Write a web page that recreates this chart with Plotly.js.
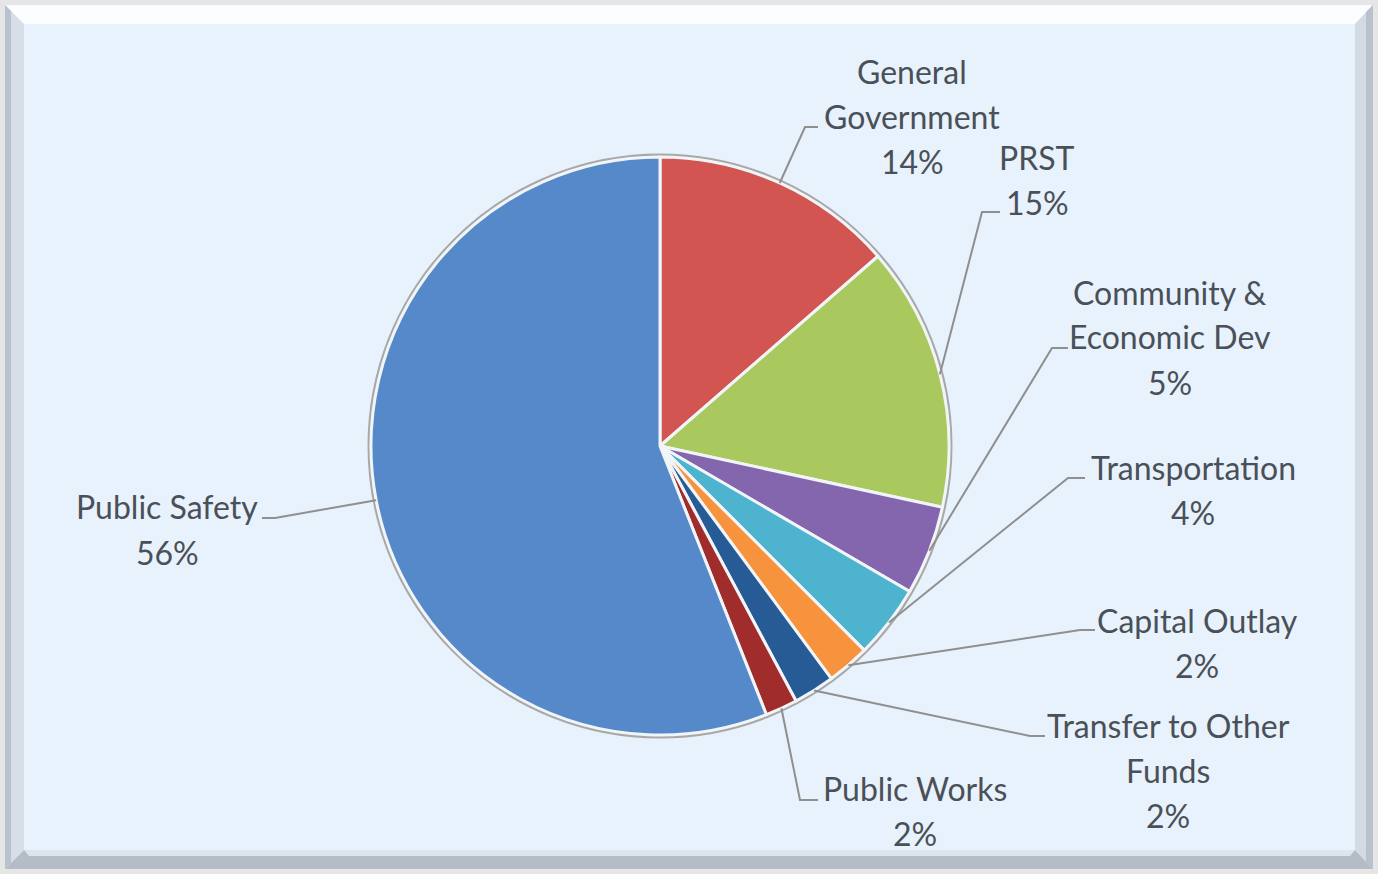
<!DOCTYPE html>
<html>
<head>
<meta charset="utf-8">
<script src="https://cdn.plot.ly/plotly-3.0.1.min.js"></script>
<style>html,body{margin:0;padding:0;background:#fff;}#chart{width:1378px;height:874px;}</style>
</head>
<body>
<div id="chart"></div>
<script>
// ---- data ----
const categories = ["General Government", "PRST", "Community & Economic Dev", "Transportation",
  "Capital Outlay", "Transfer to Other Funds", "Public Works", "Public Safety"];
const labelLines = [["General", "Government"], ["PRST"], ["Community &", "Economic Dev"], ["Transportation"],
  ["Capital Outlay"], ["Transfer to Other", "Funds"], ["Public Works"], ["Public Safety"]];
const values = [13.6, 14.8, 5.0, 4.1, 2.4, 2.3, 1.8, 56.0];
const colors = ["#D25551", "#A9C85D", "#8466AE", "#4DB3CF", "#F7933C", "#275B95", "#A12C2C", "#5589CA"];

// ---- layout of the label blocks (pixels: text centre x, first line centre y, elbow, end of leader) ----
const labelPos = [
  {cx: 912, y0: 71, ex: 805, ey: 127, hx: 818},
  {cx: 1037, y0: 157, ex: 982, ey: 212, hx: 1000},
  {cx: 1170, y0: 292, ex: 1052, ey: 348, hx: 1068},
  {cx: 1193, y0: 467, ex: 1068, ey: 478, hx: 1085},
  {cx: 1197, y0: 620, ex: 1080, ey: 630, hx: 1095},
  {cx: 1168, y0: 725, ex: 1030, ey: 736, hx: 1045},
  {cx: 915, y0: 788, ex: 800, ey: 800, hx: 818},
  {cx: 167, y0: 507, ex: 275, ey: 518, hx: 262}
];

const W = 1378, H = 874;
const CX = 660, CY = 446, R = 289;
const LINE = 45;
const px = x => x / W;
const py = y => 1 - y / H;

const total = values.reduce((a, b) => a + b, 0);
const shapes = [];
const annotations = [];

// frame / bevel
shapes.push({type: 'rect', xref: 'paper', yref: 'paper', x0: 0, x1: 1, y0: 0, y1: 1, fillcolor: '#E6E6E6', line: {width: 0}, layer: 'below'});
shapes.push({type: 'rect', xref: 'paper', yref: 'paper', x0: px(5), x1: px(1373), y0: py(869), y1: py(5), fillcolor: '#E8F2FC', line: {width: 0}, layer: 'below'});
function poly(pts, fill) {
  let d = pts.map((p, i) => (i ? 'L' : 'M') + px(p[0]) + ',' + py(p[1])).join(' ') + ' Z';
  shapes.push({type: 'path', xref: 'paper', yref: 'paper', path: d, fillcolor: fill, line: {width: 0}, layer: 'below'});
}
poly([[5, 5], [1373, 5], [1355, 24], [24, 24]], '#FBFDFF');
poly([[5, 5], [24, 24], [24, 850], [5, 869]], '#D6DEE7');
poly([[5, 5], [11, 11], [11, 863], [5, 869]], '#B9C2CD');
poly([[1373, 5], [1355, 24], [1355, 850], [1373, 869]], '#D2DAE4');
poly([[1373, 5], [1366, 12], [1366, 862], [1373, 869]], '#B8C1CC');
poly([[5, 869], [24, 850], [1355, 850], [1373, 869]], '#B3BCC7');
poly([[24, 850], [1355, 850], [1350, 856], [29, 856]], '#DCE4EC');

// outer rim of the pie
shapes.push({type: 'circle', xref: 'paper', yref: 'paper', x0: px(CX - R - 2), x1: px(CX + R + 2), y0: py(CY + R + 2), y1: py(CY - R - 2), line: {color: '#A8A8A8', width: 3}, fillcolor: 'rgba(0,0,0,0)', layer: 'below'});

// leader lines and labels, anchored at each slice's mid-angle
let cum = 0;
values.forEach((v, i) => {
  const mid = (cum + v / 2) / total * 2 * Math.PI;
  cum += v;
  const ax = CX + R * Math.sin(mid), ay = CY - R * Math.cos(mid);
  const L = labelPos[i];
  shapes.push({type: 'path', xref: 'paper', yref: 'paper',
    path: 'M' + px(ax) + ',' + py(ay) + ' L' + px(L.ex) + ',' + py(L.ey) + ' L' + px(L.hx) + ',' + py(L.ey),
    line: {color: '#8F8F8F', width: 2}, layer: 'above'});
  const lines = labelLines[i].concat([Math.round(v / total * 100) + '%']);
  lines.forEach((t, k) => {
    annotations.push({xref: 'paper', yref: 'paper', x: px(L.cx), y: py(L.y0 + k * LINE), text: t, showarrow: false,
      xanchor: 'center', yanchor: 'middle', font: {family: 'Lato, sans-serif', size: 32, color: '#4A5058'}});
  });
});

const trace = {
  type: 'pie',
  labels: categories,
  values: values,
  sort: false,
  direction: 'clockwise',
  rotation: 0,
  textinfo: 'none',
  hoverinfo: 'label+percent',
  marker: {colors: colors, line: {color: '#F2F5F8', width: 3}},
  domain: {x: [px(CX - R), px(CX + R)], y: [py(CY + R), py(CY - R)]},
  showlegend: false
};

Plotly.newPlot('chart', [trace], {
  width: W, height: H,
  margin: {l: 0, r: 0, t: 0, b: 0},
  paper_bgcolor: '#E8F2FC',
  showlegend: false,
  shapes: shapes,
  annotations: annotations
}, {displayModeBar: false, staticPlot: true});
</script>
</body>
</html>
